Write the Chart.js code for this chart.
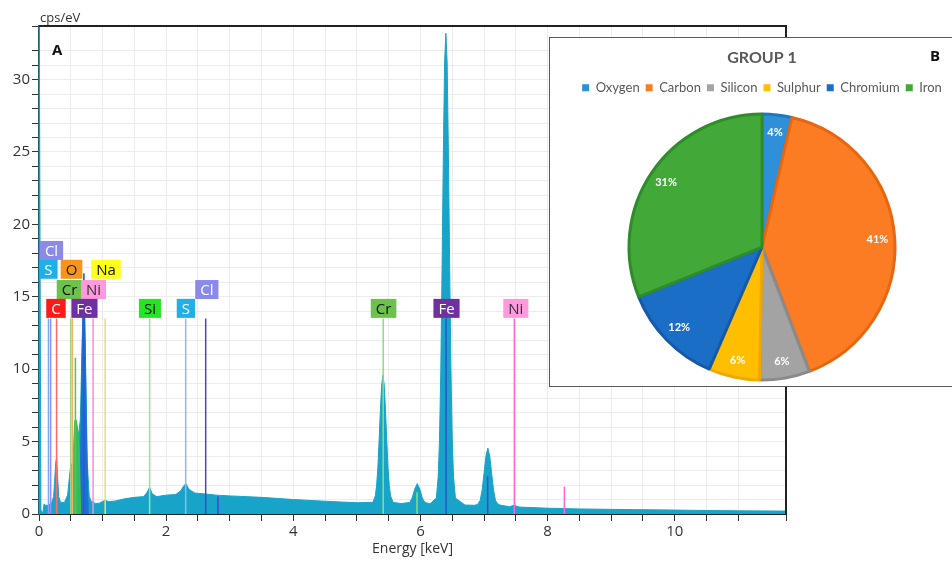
<!DOCTYPE html>
<html>
<head>
<meta charset="utf-8">
<title>EDS spectrum and composition</title>
<script src="https://cdn.jsdelivr.net/npm/chart.js@4.4.0/dist/chart.umd.min.js"></script>
<style>
  html, body { margin: 0; padding: 0; background: #fff; overflow: hidden; }
  #wrap { position: relative; width: 952px; height: 561px; }
  #spectrum { position: absolute; left: 0; top: 0; }
  #piePanel { position: absolute; left: 549px; top: 37px; width: 402px; height: 348px;
              border: 1px solid #5a5a5a; background: #fff; overflow: hidden; }
  #pie { position: absolute; left: -1px; top: 0; }
  #tagB { position: absolute; right: 12px; top: 7px; font: bold 15px "Open Sans", sans-serif; color: #111; }
</style>
</head>
<body>
<div id="wrap">
  <canvas id="spectrum" width="952" height="561"></canvas>
  <div id="piePanel">
    <canvas id="pie" width="426" height="352"></canvas>
    <div id="tagB">B</div>
  </div>
</div>
<script>
// spectrum: [energy keV, cps/eV]
const spectrum = [
  [0.000, 40], [0.015, 40], [0.030, 0.3], [0.045, 0.1], [0.060, 0.1], [0.080, 0.7],
  [0.100, 0.6], [0.150, 0.6], [0.200, 0.8], [0.230, 1.2], [0.250, 2.6], [0.265, 3.6],
  [0.277, 3.9], [0.290, 2.8], [0.310, 1.2], [0.340, 0.8], [0.400, 0.8], [0.450, 1.3],
  [0.480, 2.6], [0.500, 3.4], [0.525, 3.5], [0.550, 3.3], [0.570, 6.5], [0.590, 6.2],
  [0.620, 5.4], [0.650, 6.5], [0.680, 12], [0.705, 16.6], [0.730, 11], [0.760, 3.5],
  [0.790, 1.2], [0.830, 0.8], [0.850, 0.9], [0.880, 0.7], [0.950, 0.75], [1.040, 0.95],
  [1.100, 0.85], [1.200, 0.9], [1.350, 1.05], [1.500, 1.15], [1.650, 1.2], [1.700, 1.5],
  [1.740, 1.85], [1.780, 1.4], [1.850, 1.2], [2.000, 1.3], [2.150, 1.35], [2.230, 1.6],
  [2.270, 1.9], [2.310, 2.1], [2.360, 1.7], [2.450, 1.45], [2.620, 1.38], [2.800, 1.3],
  [3.000, 1.25], [3.500, 1.15], [4.000, 1.0], [4.500, 0.88], [5.000, 0.78], [5.250, 0.8],
  [5.290, 1.25], [5.310, 1.95], [5.330, 3.2], [5.350, 5.1], [5.370, 7.2], [5.390, 8.9],
  [5.410, 9.6], [5.430, 8.9], [5.450, 7.2], [5.470, 5.1], [5.490, 3.2], [5.510, 1.95],
  [5.530, 1.25], [5.570, 0.8], [5.700, 0.72], [5.830, 0.8], [5.870, 1.1], [5.910, 1.72],
  [5.950, 2.1], [5.990, 1.72], [6.030, 1.1], [6.070, 0.8], [6.150, 0.7], [6.250, 1.1],
  [6.280, 2.6], [6.300, 5.2], [6.320, 9.9], [6.340, 16.9], [6.360, 24.8], [6.380, 31.2],
  [6.400, 33.2], [6.420, 31.2], [6.440, 24.8], [6.460, 16.9], [6.480, 9.9], [6.500, 5.2],
  [6.520, 2.6], [6.550, 1.1], [6.700, 0.62], [6.850, 0.6], [6.900, 0.66], [6.940, 0.95],
  [6.970, 1.65], [7.000, 2.8], [7.030, 4.0], [7.060, 4.55], [7.090, 4.0], [7.120, 2.8],
  [7.150, 1.65], [7.180, 0.95], [7.220, 0.66], [7.270, 0.6], [7.400, 0.5], [7.470, 0.6],
  [7.550, 0.48], [8.000, 0.4], [8.500, 0.35], [9.000, 0.32], [10.000, 0.27], [11.000, 0.22],
  [11.750, 0.2]
];

// deconvolved L-line overlays (Cr green, Fe blue)
const crLPeak = [[0.50, 0], [0.53, 3.0], [0.56, 6.4], [0.585, 6.5], [0.61, 5.8], [0.635, 4.2], [0.655, 0]];
const feLPeak = [[0.625, 0], [0.655, 4.0], [0.68, 11.5], [0.705, 16.6], [0.725, 12.0], [0.75, 4.5], [0.775, 0]];

// element line markers
const markerEnergy = [0.149, 0.183, 0.277, 0.500, 0.525, 0.573, 0.705, 0.851, 1.041, 1.740, 2.307, 2.622, 2.815, 5.414, 5.946, 6.403, 7.057, 7.477, 8.264];
const markerHeight = [13.5, 13.5, 13.5, 13.5, 13.5, 10.8, 13.5, 13.5, 13.5, 13.5, 13.5, 13.5, 1.2, 13.5, 1.5, 13.5, 2.6, 13.5, 1.9];
const markerColor = ['#7aa7f0', '#8f8ff5', '#ff6b6b', '#8fdc7f', '#f5b06a', '#50c850', '#2a5bd6', '#ff88dd', '#e5e07a', '#90e890',
                     '#86bde6', '#4a3fd8', '#4a3fd8', '#86e086', '#86e086', '#2f4fd8', '#2f4fd8', '#ff66dd', '#ff66dd'];

// element tags: text, centre energy, level (cps/eV)
const tagText   = ['Cl', 'S', 'O', 'Na', 'Cr', 'Ni', 'C', 'Fe', 'Si', 'S', 'Cl', 'Cr', 'Fe', 'Ni'];
const tagEnergy = [0.197, 0.149, 0.511, 1.053, 0.480, 0.857, 0.267, 0.715, 1.745, 2.31, 2.64, 5.42, 6.41, 7.50];
const tagLevel  = [18.2, 16.9, 16.9, 16.9, 15.5, 15.5, 14.2, 14.2, 14.2, 14.2, 15.5, 14.2, 14.2, 14.2];
const tagFill   = ['#8a8ae8', '#1fb0e8', '#f7941d', '#ffff1a', '#6cc24a', '#ff99dd', '#ff1a1a', '#7030a0', '#22e622', '#1fb0e8', '#8a8ae8', '#6cc24a', '#7030a0', '#ff99dd'];
const tagInk    = ['#fff', '#fff', '#222', '#111', '#111', '#333', '#fff', '#fff', '#111', '#fff', '#fff', '#111', '#fff', '#333'];

// pie: Group 1 composition
const pieElements = ['Oxygen', 'Carbon', 'Silicon', 'Sulphur', 'Chromium', 'Iron'];
const pieShares = [3.6, 40.6, 6.1, 6.2, 12.4, 31.1];
const pieFill = ['#2e90d8', '#fb7c22', '#a3a3a3', '#ffbf00', '#1b6ec6', '#42a838'];
const pieEdge = ['#1e78c0', '#e8660e', '#8a8a8a', '#f0a800', '#1559a8', '#2f8c2a'];

const toPoints = arr => arr.map(p => ({ x: p[0], y: p[1] }));
const uiFont = '"Open Sans", "Noto Sans", sans-serif';

const spectrumDecor = {
    id: 'spectrumDecor',
    afterDatasetsDraw(chart) {
        const { ctx, scales: { x, y }, chartArea } = chart;
        ctx.save();
        // frame on top and right
        ctx.strokeStyle = '#222';
        ctx.lineWidth = 2;
        ctx.beginPath();
        ctx.moveTo(chartArea.left, chartArea.top);
        ctx.lineTo(chartArea.right, chartArea.top);
        ctx.lineTo(chartArea.right, chartArea.bottom);
        ctx.stroke();

        // element tags
        ctx.font = '15px ' + uiFont;
        ctx.textAlign = 'center';
        ctx.textBaseline = 'middle';
        tagText.forEach((t, i) => {
            const cx = x.getPixelForValue(tagEnergy[i]);
            const cy = y.getPixelForValue(tagLevel[i]);
            const w = ctx.measureText(t).width + 10;
            const h = 19;
            ctx.fillStyle = tagFill[i];
            ctx.fillRect(cx - w / 2, cy - h / 2, w, h);
            ctx.fillStyle = tagInk[i];
            ctx.fillText(t, cx, cy + 1);
        });

        // panel letter and unit
        ctx.textAlign = 'left';
        ctx.fillStyle = '#111';
        ctx.font = 'bold 15px ' + uiFont;
        ctx.fillText('A', chartArea.left + 13, chartArea.top + 25);
        ctx.fillStyle = '#333';
        ctx.font = '13px ' + uiFont;
        ctx.fillText('cps/eV', chartArea.left + 1, chartArea.top - 8);
        ctx.restore();
    }
};

const markerSets = markerEnergy.map((e, i) => ({
    data: [{ x: e, y: 0 }, { x: e, y: markerHeight[i] }],
    borderColor: markerColor[i],
    borderWidth: 1.5,
    pointRadius: 0,
    fill: false,
    order: 0
}));

new Chart(document.getElementById('spectrum'), {
    type: 'line',
    data: {
        datasets: [
            {
                data: toPoints(spectrum),
                borderColor: '#18a4c8',
                backgroundColor: '#18a4c8',
                borderWidth: 1,
                pointRadius: 0,
                fill: 'origin',
                order: 2
            },
            {
                data: toPoints(crLPeak),
                borderColor: '#3fbf4a',
                backgroundColor: 'rgba(63, 191, 74, 0.85)',
                borderWidth: 1,
                pointRadius: 0,
                fill: 'origin',
                order: 1
            },
            {
                data: toPoints(feLPeak),
                borderColor: '#1f6fd0',
                backgroundColor: '#1f6fd0',
                borderWidth: 1,
                pointRadius: 0,
                fill: 'origin',
                order: 1
            },
            ...markerSets
        ]
    },
    options: {
        responsive: false,
        animation: false,
        layout: { padding: { top: 26, right: 166, left: 0, bottom: 0 } },
        plugins: { legend: { display: false }, tooltip: { enabled: false } },
        scales: {
            x: {
                type: 'linear',
                min: 0,
                max: 11.75,
                afterFit: s => { s.height = 47; },
                ticks: {
                    stepSize: 0.5,
                    autoSkip: false,
                    maxRotation: 0,
                    padding: 2,
                    color: '#333',
                    font: { family: uiFont, size: 15 },
                    callback: v => (Number.isInteger(v) && v % 2 === 0) ? v : ''
                },
                grid: { color: '#ececec', tickColor: '#333', tickLength: 7 },
                border: { color: '#222', width: 2 },
                title: {
                    display: true,
                    text: 'Energy [keV]',
                    color: '#333',
                    font: { family: uiFont, size: 14 },
                    padding: { top: 0, bottom: 4 }
                }
            },
            y: {
                min: 0,
                max: 33.7,
                afterFit: s => { s.width = 39; },
                ticks: {
                    stepSize: 1,
                    autoSkip: false,
                    padding: 2,
                    color: '#333',
                    font: { family: uiFont, size: 15 },
                    callback: v => (Number.isInteger(v) && v % 5 === 0) ? v : ''
                },
                grid: { color: '#ececec', tickColor: '#333', tickLength: 7 },
                border: { color: '#1d6275', width: 2 }
            }
        }
    },
    plugins: [spectrumDecor]
});

const piePercent = {
    id: 'piePercent',
    afterDatasetsDraw(chart) {
        const { ctx } = chart;
        const total = pieShares.reduce((a, b) => a + b, 0);
        ctx.save();
        ctx.fillStyle = '#fff';
        ctx.font = 'bold 11px Lato, sans-serif';
        ctx.textAlign = 'center';
        ctx.textBaseline = 'middle';
        chart.getDatasetMeta(0).data.forEach((arc, i) => {
            const p = arc.getProps(['x', 'y', 'startAngle', 'endAngle', 'outerRadius'], true);
            const mid = (p.startAngle + p.endAngle) / 2;
            const r = p.outerRadius * 0.87;
            ctx.fillText(Math.round(pieShares[i] / total * 100) + '%', p.x + Math.cos(mid) * r, p.y + Math.sin(mid) * r);
        });
        ctx.restore();
    }
};

new Chart(document.getElementById('pie'), {
    type: 'pie',
    data: {
        labels: pieElements,
        datasets: [{
            data: pieShares,
            backgroundColor: pieFill,
            borderColor: pieEdge,
            borderWidth: 3
        }]
    },
    options: {
        responsive: false,
        animation: false,
        radius: 133,
        layout: { padding: 0 },
        plugins: {
            tooltip: { enabled: false },
            title: {
                display: true,
                text: 'GROUP 1',
                color: '#595959',
                font: { family: 'Lato', size: 16, weight: 'bold' },
                padding: { top: 10, bottom: 8 }
            },
            legend: {
                position: 'top',
                labels: {
                    boxWidth: 7,
                    boxHeight: 7,
                    padding: 6,
                    color: '#595959',
                    font: { family: 'Lato', size: 13 },
                    generateLabels: chart => Chart.overrides.pie.plugins.legend.labels.generateLabels(chart)
                        .map(l => ({ ...l, lineWidth: 0, strokeStyle: l.fillStyle }))
                }
            }
        }
    },
    plugins: [piePercent]
});
</script>
</body>
</html>
